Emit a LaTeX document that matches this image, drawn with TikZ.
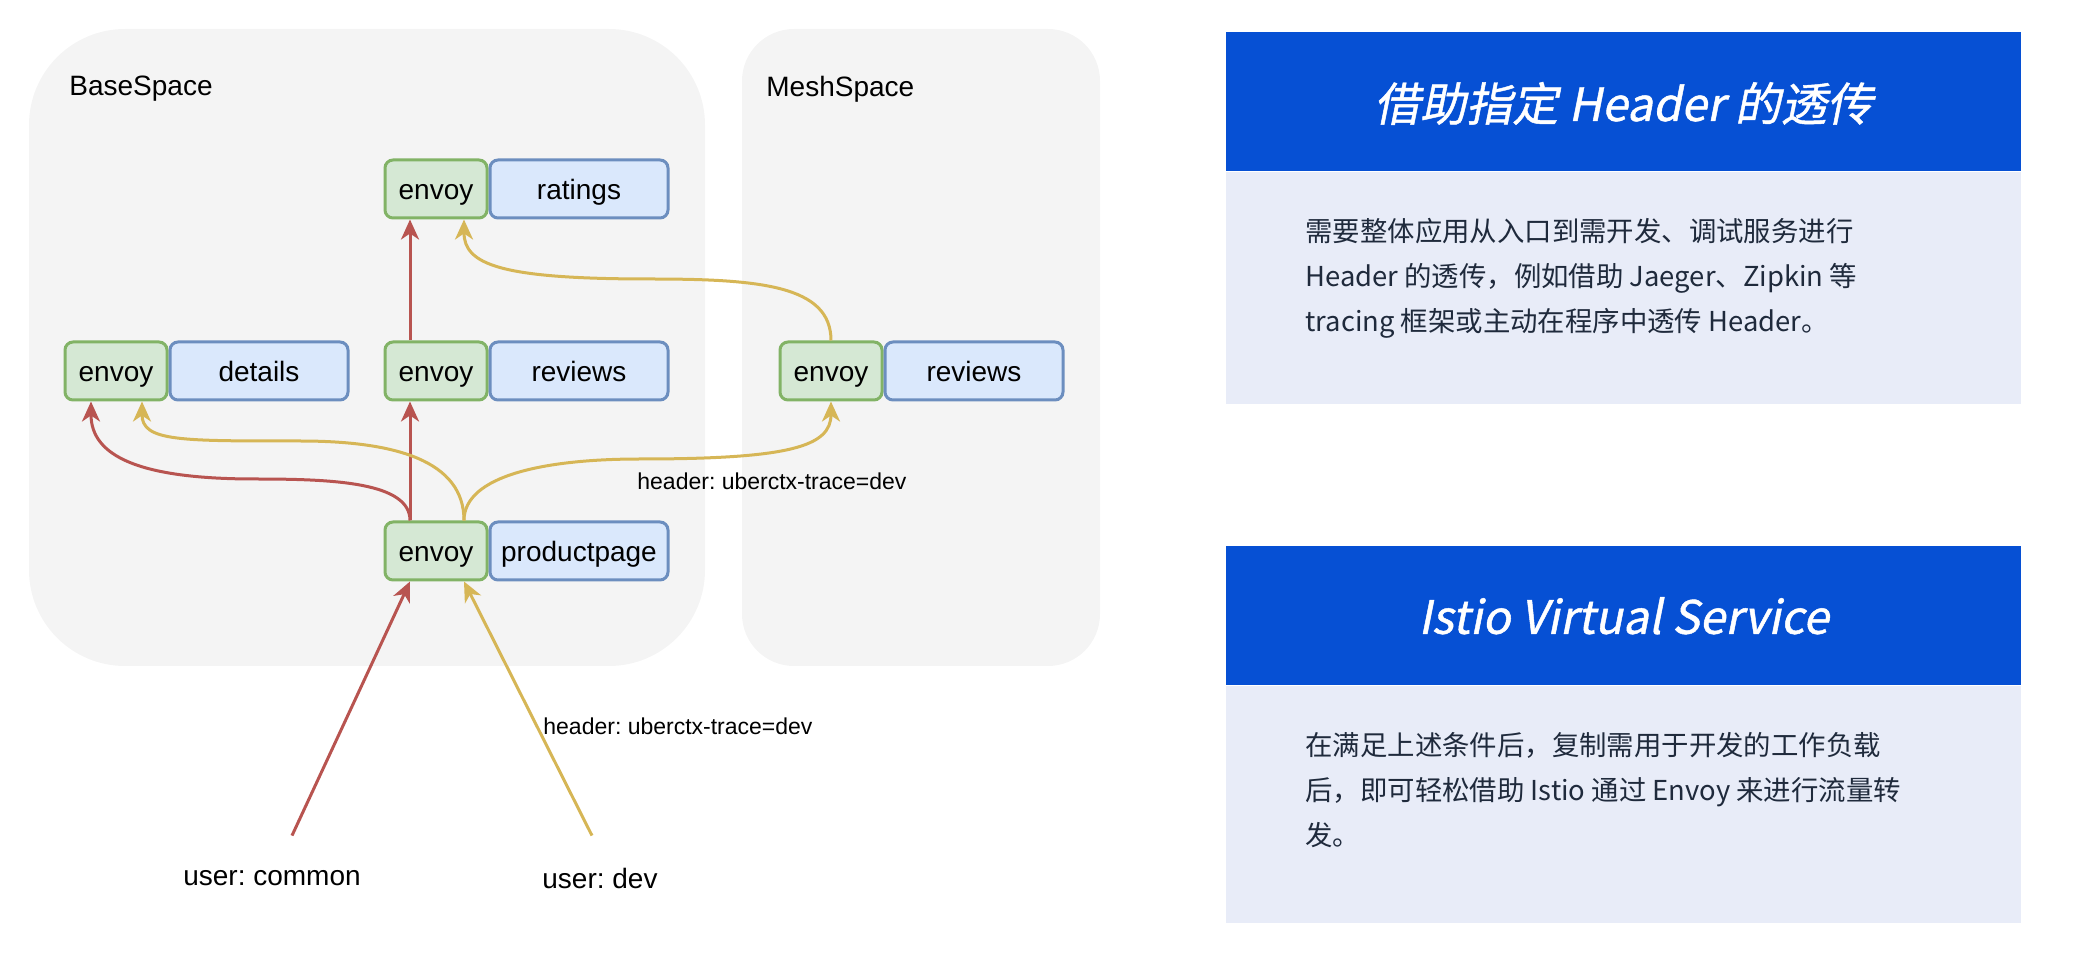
\documentclass[tikz,border=0pt]{standalone}
\usepackage{fontspec}
\setmainfont{Liberation Sans}
\newfontfamily\cjkfont{Noto Sans CJK SC}
\newfontfamily\titlefont[FakeSlant=0.2, FakeBold=1]{Noto Sans CJK SC}
\usepackage{tikz}
\usetikzlibrary{positioning, arrows.meta}
\usepackage{xcolor}
\definecolor{spacegray}{HTML}{F4F4F4}
\definecolor{envoyfill}{HTML}{D5E8D4}
\definecolor{envoyline}{HTML}{82B366}
\definecolor{svcfill}{HTML}{DAE8FC}
\definecolor{svcline}{HTML}{6C8EBF}
\definecolor{redline}{HTML}{B85450}
\definecolor{yellowline}{HTML}{D6B656}
\definecolor{headblue}{HTML}{0650D4}
\definecolor{bodyblue}{HTML}{E8ECF8}
\definecolor{bodytext}{HTML}{1F2A3C}
\frenchspacing

\begin{document}
\begin{tikzpicture}[x=0.5pt, y=-0.5pt,
  envoy/.style={draw=envoyline, fill=envoyfill, line width=1.5pt, rounded corners=4pt, minimum width=51pt, minimum height=29pt, inner sep=0pt, text height=14pt, text depth=3pt, font=\fontsize{14}{16}\selectfont},
  svc/.style={draw=svcline, fill=svcfill, line width=1.5pt, rounded corners=4pt, minimum width=89pt, minimum height=29pt, inner sep=0pt, text height=14pt, text depth=3pt, font=\fontsize{14}{16}\selectfont},
  spacelbl/.style={anchor=west, inner sep=0pt, font=\fontsize{14}{16}\selectfont},
  user/.style={minimum width=80pt, minimum height=42pt, inner sep=0pt, font=\fontsize{14}{16}\selectfont},
  hdr/.style={anchor=west, inner sep=0pt, font=\fontsize{11.5}{13}\selectfont},
  redarrow/.style={draw=redline, line width=1.5pt, -{Stealth[length=10pt, width=9pt, inset=3pt]}},
  yellowarrow/.style={draw=yellowline, line width=1.5pt, -{Stealth[length=10pt, width=9pt, inset=3pt]}},
  headbox/.style={fill=headblue, minimum width=397.5pt, minimum height=69.5pt, inner sep=0pt, text depth=0pt, text=white, font=\titlefont\fontsize{23}{28}\selectfont},
  bodybox/.style={fill=bodyblue, minimum width=397.5pt, inner sep=0pt},
  bodytxt/.style={anchor=north west, inner sep=0pt, align=left, text=bodytext, font=\cjkfont\fontsize{13.7}{22.5}\selectfont}]
\useasboundingbox (0,0) rectangle (2078,972);

% the two spaces
\fill[spacegray, rounded corners=48pt] (29,29) rectangle (705,666);
\fill[spacegray, rounded corners=26pt] (742,29) rectangle (1100,666);
\node[spacelbl] (baselbl) at (69,89) {BaseSpace};
\node[spacelbl] (meshlbl) at (766,89) {MeshSpace};

% services
\node[envoy] (ra) at (436,189) {envoy};
\node[svc, right=0pt of ra] (ratings) {ratings};
\node[envoy] (de) at (116,371) {envoy};
\node[svc, right=0pt of de] (details) {details};
\node[envoy] (re) at (436,371) {envoy};
\node[svc, right=0pt of re] (reviews) {reviews};
\node[envoy] (me) at (831,371) {envoy};
\node[svc, right=0pt of me] (meshreviews) {reviews};
\node[envoy] (pe) at (436,551) {envoy};
\node[svc, right=0pt of pe] (productpage) {productpage};

\node[user] (uc) at (272,878) {user: common};
\node[user] (ud) at (600,878) {user: dev};

% common traffic
\draw[redarrow] ([xshift=10pt]uc.north) -- ([xshift=-13pt]pe.south);
\draw[redarrow] ([xshift=-13pt]pe.north) -- ([xshift=-13pt]re.south);
\draw[redarrow] ([xshift=-13pt]re.north) -- ([xshift=-13pt]ra.south);
\draw[redarrow] ([xshift=-13pt]pe.north) .. controls +(0,-38) and +(80,0) .. (255,479) .. controls +(-115,0) and +(0,55) .. ([xshift=-12.5pt]de.south);

% dev traffic
\draw[yellowarrow] ([xshift=-4pt]ud.north) -- ([xshift=14pt]pe.south);
\draw[yellowarrow] ([xshift=14pt]pe.north) .. controls +(0,-60) and +(95,0) .. (300,441) .. controls +(-120,0) and +(0,40) .. ([xshift=13pt]de.south);
\draw[yellowarrow] ([xshift=14pt]pe.north) .. controls +(0,-45) and +(-95,0) .. (640,459) .. controls +(150,0) and +(0,45) .. (me.south);
\draw[yellowarrow] (me.north) .. controls +(0,-55) and +(110,0) .. (650,279) .. controls +(-150,0) and +(0,45) .. ([xshift=14pt]ra.south);

\node[hdr] (hdrmesh) at (637,481) {header: uberctx-trace=dev};
\node[hdr] (hdrdev) at (543,726) {header: uberctx-trace=dev};

% right side notes
\node[headbox] (head1) at (1623.5,101.5) {借助指定 Header 的透传};
\node[bodybox, minimum height=116pt, below=0pt of head1] (body1) {};
\node[bodytxt] (txt1) at (1305,218) {需要整体应用从入口到需开发、调试服务进行\\Header 的透传，例如借助 Jaeger、Zipkin 等\\tracing 框架或主动在程序中透传 Header。};

\node[headbox] (head2) at (1623.5,615.5) {Istio Virtual Service};
\node[bodybox, minimum height=118.5pt, below=0pt of head2] (body2) {};
\node[bodytxt] (txt2) at (1305,732) {在满足上述条件后，复制需用于开发的工作负载\\后，即可轻松借助 Istio 通过 Envoy 来进行流量转\\发。};
\end{tikzpicture}
\end{document}
